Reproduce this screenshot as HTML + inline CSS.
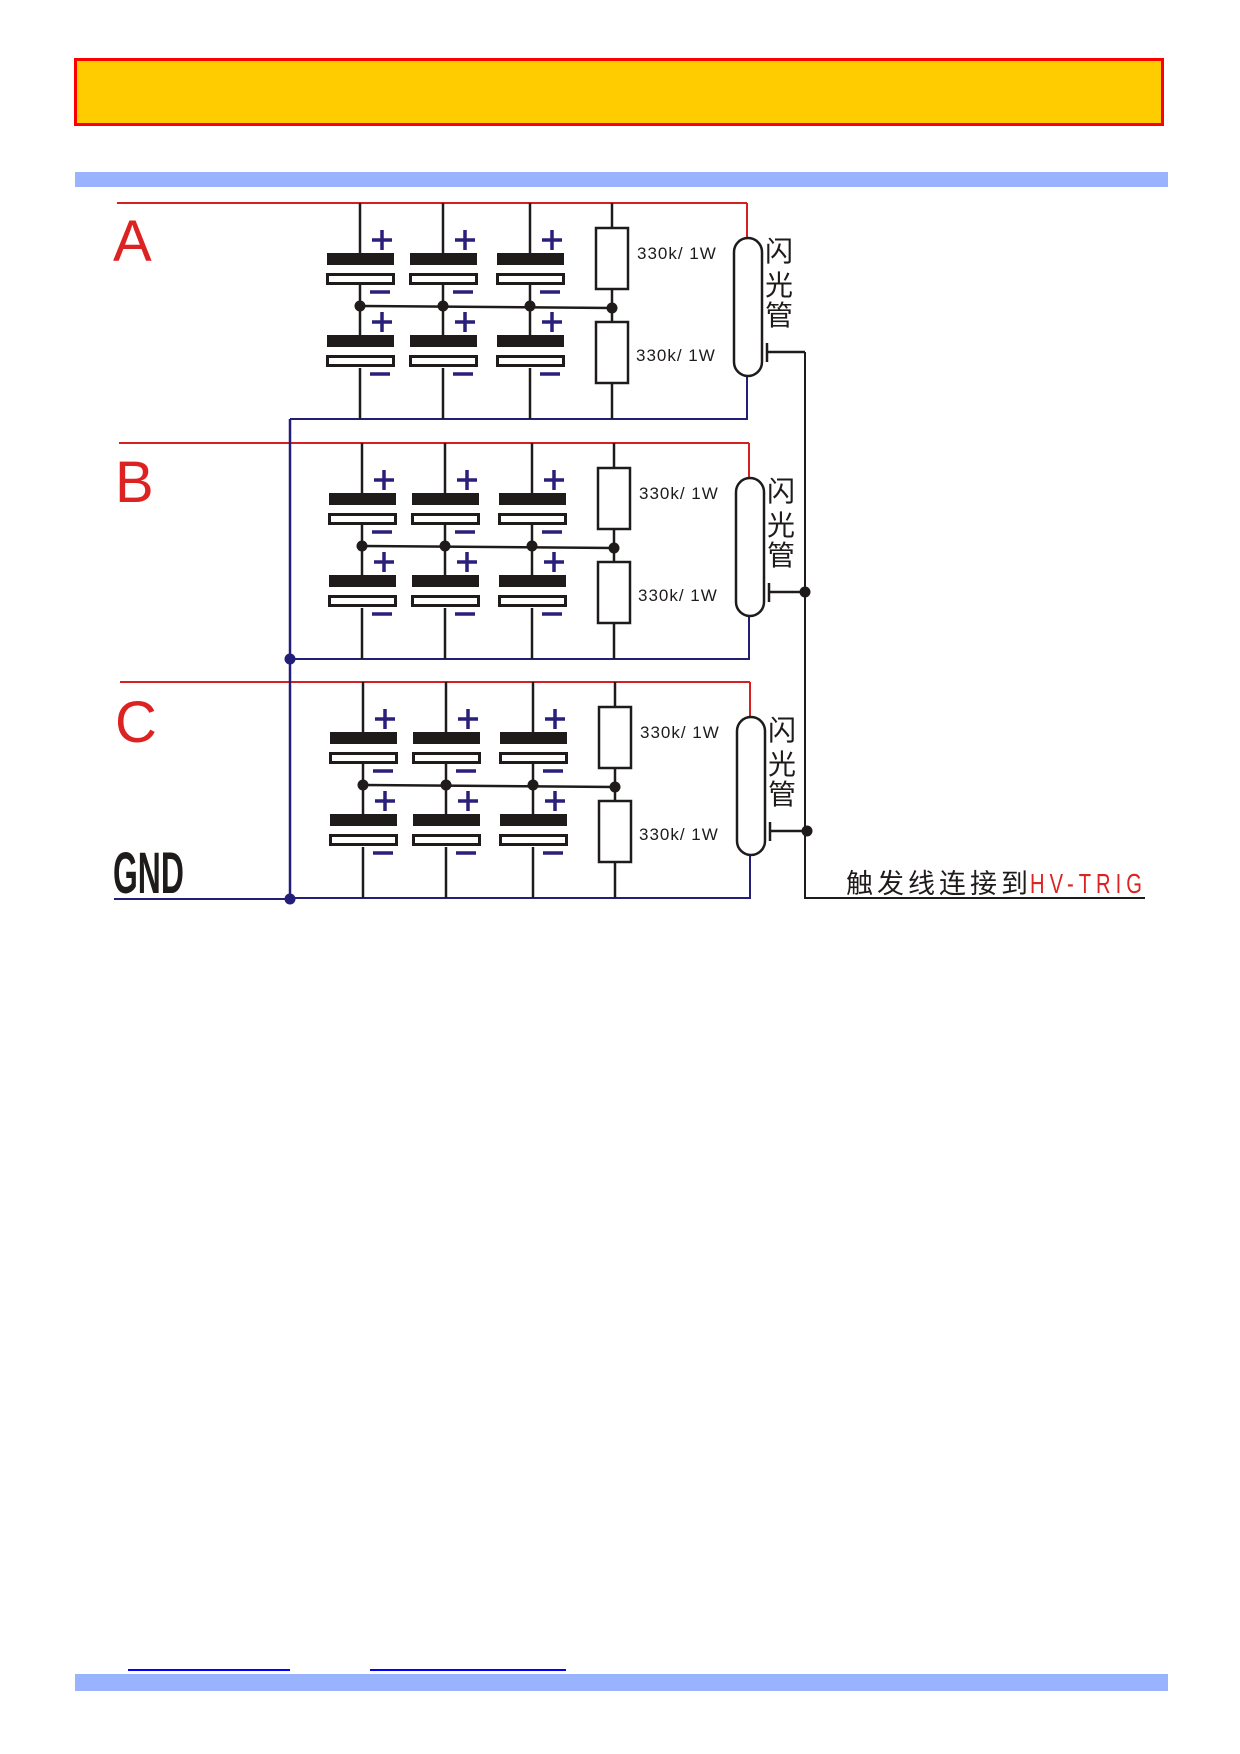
<!DOCTYPE html>
<html><head><meta charset="utf-8"><style>
html,body{margin:0;padding:0;background:#fff}
svg{display:block}
</style></head><body>
<svg width="1240" height="1754" viewBox="0 0 1240 1754" xmlns="http://www.w3.org/2000/svg">
<rect x="75.5" y="59.5" width="1087" height="65" fill="#ffcc00" stroke="#ff0000" stroke-width="3"/>
<rect x="75" y="172" width="1093" height="15" fill="#99b3ff"/>
<rect x="75" y="1674" width="1093" height="17" fill="#99b3ff"/>
<line x1="128" y1="1670" x2="290" y2="1670" stroke="#0000ff" stroke-width="2"/>
<line x1="370" y1="1670" x2="566" y2="1670" stroke="#0000ff" stroke-width="2"/>

<defs>
<g id="cap">
  <rect x="-33" y="0" width="67" height="12" fill="#1e1b1a"/>
  <rect x="-32.5" y="21.5" width="66" height="9" fill="#fff" stroke="#1e1b1a" stroke-width="3"/>
  <path d="M12 -13 h20 M22 -23 v20" stroke="#2a1f7a" stroke-width="3.5"/>
  <path d="M10 39 h20" stroke="#2a1f7a" stroke-width="3.5"/>
</g>
<g id="sec">
  <line x1="0" y1="0" x2="630" y2="0" stroke="#d42020" stroke-width="2"/>
  <path d="M630 0 V36" stroke="#d42020" stroke-width="2" fill="none"/>
  <path d="M630 174 V216 H173" stroke="#231f78" stroke-width="2" fill="none"/>
  <g stroke="#1e1b1a" stroke-width="2.5" fill="none">
    <path d="M243 0 V50 M243 81 V132 M243 165 V216"/>
    <path d="M326 0 V50 M326 81 V132 M326 165 V216"/>
    <path d="M413 0 V50 M413 81 V132 M413 165 V216"/>
    <path d="M495 0 V216"/>
    <path d="M243 103 L495 105"/>
  </g>
  <g transform="translate(243,50)"><use href="#cap"/></g>
  <g transform="translate(326,50)"><use href="#cap"/></g>
  <g transform="translate(413,50)"><use href="#cap"/></g>
  <g transform="translate(243,132)"><use href="#cap"/></g>
  <g transform="translate(326,132)"><use href="#cap"/></g>
  <g transform="translate(413,132)"><use href="#cap"/></g>
  <g fill="#1e1b1a"><circle cx="243" cy="103" r="5.5"/><circle cx="326" cy="103" r="5.5"/><circle cx="413" cy="103" r="5.5"/><circle cx="495" cy="105" r="5.5"/></g>
  <rect x="479" y="25" width="32" height="61" fill="#fff" stroke="#1e1b1a" stroke-width="2.5"/>
  <rect x="479" y="119" width="32" height="61" fill="#fff" stroke="#1e1b1a" stroke-width="2.5"/>
  <text x="520" y="56" font-family="Liberation Sans, sans-serif" font-size="17" letter-spacing="1" fill="#1e1b1a">330k/ 1W</text>
  <text x="519" y="158" font-family="Liberation Sans, sans-serif" font-size="17" letter-spacing="1" fill="#1e1b1a">330k/ 1W</text>
  <rect x="617" y="35" width="28" height="138" rx="14" fill="#fff" stroke="#1e1b1a" stroke-width="2.5"/>
  <g font-family="Liberation Sans, 'Noto Sans CJK SC', sans-serif" font-size="28" fill="#1e1b1a">
    <text x="648" y="58">闪</text><text x="648" y="92">光</text><text x="648" y="122">管</text>
  </g>
  <path d="M650 140 V159 M650 149 H688" stroke="#1e1b1a" stroke-width="2.5" fill="none"/>
</g>
</defs>

<g transform="translate(117,203)"><use href="#sec"/></g>
<g transform="translate(119,443)"><use href="#sec"/></g>
<g transform="translate(120,682)"><use href="#sec"/></g>

<path d="M290 419 V899" stroke="#231f78" stroke-width="2.5"/>
<line x1="114" y1="899" x2="290" y2="899" stroke="#231f78" stroke-width="2"/>
<circle cx="290" cy="659" r="5.5" fill="#231f78"/>
<circle cx="290" cy="899" r="5.5" fill="#231f78"/>

<path d="M805 352 V898 H1145" stroke="#1e1b1a" stroke-width="2" fill="none"/>
<circle cx="805" cy="592" r="5.5" fill="#1e1b1a"/>
<circle cx="807" cy="831" r="5.5" fill="#1e1b1a"/>

<g font-family="Liberation Sans, sans-serif" fill="#dd2222" font-size="58">
<text x="113" y="261">A</text>
<text x="115" y="502">B</text>
<text x="115" y="742">C</text>
</g>
<text x="113" y="893" font-family="Liberation Sans, sans-serif" font-weight="bold" font-size="58" fill="#1e1b1a" transform="translate(113,893) scale(0.55,1) translate(-113,-893)">GND</text>
<text x="846" y="893" font-family="Liberation Sans, 'Noto Sans CJK SC', sans-serif" font-size="27" fill="#1e1b1a" letter-spacing="4">触发线连接到</text>
<text x="1030" y="893" font-family="Liberation Sans, sans-serif" font-size="28" fill="#dd2222" letter-spacing="7" transform="translate(1030,893) scale(0.72,1) translate(-1030,-893)">HV-TRIG</text>
</svg>
</body></html>
